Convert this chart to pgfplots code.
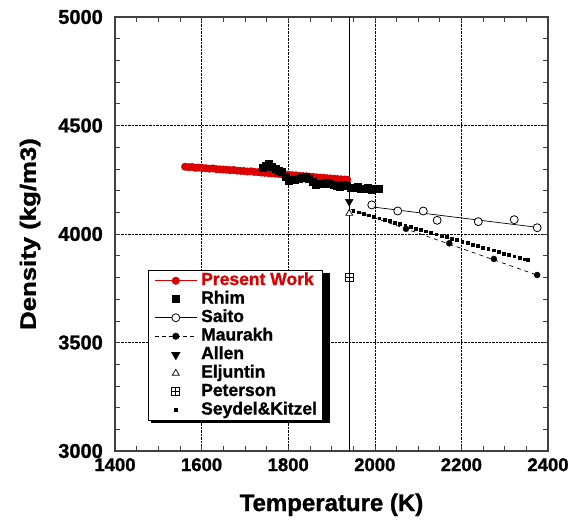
\documentclass[border=0pt]{standalone}
\usepackage{graphicx}
\usepackage{fontspec}
\setmainfont{Liberation Sans}[BoldFeatures={FakeBold=1.2}]
\usepackage{pgfplots}
\pgfplotsset{compat=1.18}
\usetikzlibrary{plotmarks}
\pgfdeclareplotmark{boxplus}{%
  \pgfpathrectangle{\pgfqpoint{-\pgfplotmarksize}{-\pgfplotmarksize}}{\pgfqpoint{2\pgfplotmarksize}{2\pgfplotmarksize}}%
  \pgfpathmoveto{\pgfqpoint{-\pgfplotmarksize}{0pt}}\pgfpathlineto{\pgfqpoint{\pgfplotmarksize}{0pt}}%
  \pgfpathmoveto{\pgfqpoint{0pt}{-\pgfplotmarksize}}\pgfpathlineto{\pgfqpoint{0pt}{\pgfplotmarksize}}%
  \pgfusepathqstroke}
\definecolor{pwred}{RGB}{220,0,0}
\pgfplotsset{
  longlegend/.style={legend image code/.code={\draw[mark repeat=2,mark phase=2,##1] plot coordinates {(0pt,0pt) (21pt,0pt) (42pt,0pt)};}},
  saitolegend/.style={legend image code/.code={\draw[black,line width=0.7pt] (0pt,0pt) -- (42pt,0pt);
    \draw[mark repeat=2,mark phase=2,##1] plot coordinates {(0pt,0pt) (21pt,0pt) (42pt,0pt)};}},
  maurakhlegend/.style={legend image code/.code={\draw[black,line width=0.7pt,dash pattern=on 4pt off 3pt] (0pt,0pt) -- (42pt,0pt);
    \draw[mark repeat=2,mark phase=2,##1] plot coordinates {(0pt,0pt) (21pt,0pt) (42pt,0pt)};}},
}
\begin{document}
\begin{tikzpicture}
\begin{axis}[
  at={(0pt,0pt)}, anchor=south west,
  scale only axis, width=433pt, height=434pt,
  xmin=1400, xmax=2400, ymin=3000, ymax=5000,
  xtick={1400,1600,...,2400}, ytick={3000,3500,...,5000},
  minor x tick num=3, minor y tick num=4,
  tick align=inside,
  major tick length=5pt, minor tick length=5pt,
  tick style={black!75, line width=0.6pt},
  xtick pos=both, ytick pos=both,
  grid=major,
  major grid style={black, densely dotted, line width=0.5pt},
  axis line style={black!75, line width=1.2pt},
  xticklabels={\textbf{1400},\textbf{1600},\textbf{1800},\textbf{2000},\textbf{2200},\textbf{2400}},
  yticklabels={\textbf{3000},\textbf{3500},\textbf{4000},\textbf{4500},\textbf{5000}},
  xticklabel style={font=\fontsize{18.5}{18.5}\selectfont, anchor=north, inner sep=0pt, yshift=-7pt},
  yticklabel style={font=\fontsize{20}{20}\selectfont, anchor=east, inner sep=0pt, xshift=-12pt},
  xlabel={Temperature (K)},
  ylabel={\scalebox{1.17}[1]{Density (kg/m3)}},
  every axis x label/.style={at={(axis description cs:0.5,-0.124)}, anchor=center, font=\fontsize{24}{24}\selectfont\bfseries},
  every axis y label/.style={at={(axis description cs:-0.196,0.5)}, anchor=center, rotate=90, font=\fontsize{22}{22}\selectfont\bfseries},
  legend cell align=left,
  legend style={at={(axis description cs:0.076,0.417)}, anchor=north west,
    draw=black, line width=1pt, fill=white,
    font=\fontsize{17.5}{18}\selectfont\bfseries, inner xsep=6pt, inner ysep=2pt,
    nodes={inner sep=0pt, text height=12.5pt, text depth=4pt}, row sep=2pt, column sep=4pt},
  longlegend,
]
% legend shadow (drawn under the legend)
\fill[black] (axis description cs:0.082,0.410) rectangle (axis description cs:0.4955,0.0655);
% Present Work
\addplot[pwred, line width=0.8pt, mark=*, mark size=3.6pt, mark options={pwred}] coordinates {
(1562,4310) (1570,4308) (1578,4309) (1586,4305) (1594,4306) (1602,4304) (1610,4303) (1618,4301)
(1626,4302) (1634,4299) (1642,4298) (1650,4297) (1658,4296) (1666,4294) (1674,4295) (1682,4292)
(1690,4291) (1698,4290) (1706,4288) (1714,4289) (1722,4286) (1730,4285) (1738,4283) (1746,4282)
(1754,4281) (1762,4279) (1770,4278) (1778,4277) (1786,4275) (1794,4274) (1802,4272) (1810,4271)
(1818,4270) (1826,4268) (1834,4267) (1842,4266) (1850,4264) (1858,4263) (1866,4261) (1874,4260)
(1882,4259) (1890,4257) (1898,4256) (1906,4255) (1914,4253) (1922,4252) (1930,4251) (1936,4250)
};
\addlegendentry{\textcolor{pwred}{Present Work}}
% Rhim
\addplot[only marks, mark=square*, mark size=3.5pt, black] coordinates {
(1740,4305) (1748,4315) (1755,4322) (1762,4312) (1770,4300) (1778,4292) (1786,4285) (1794,4265)
(1800,4245) (1808,4248) (1816,4252) (1824,4255) (1832,4258) (1840,4262) (1848,4255) (1856,4240)
(1864,4228) (1872,4230) (1880,4232) (1888,4235) (1896,4233) (1904,4225) (1912,4222) (1920,4220)
(1928,4225) (1936,4222) (1944,4215) (1952,4212) (1960,4218) (1968,4210) (1976,4208) (1984,4212)
(1992,4205) (2000,4210) (2008,4208)
};
\addlegendentry{Rhim}
% Saito fit line
\addplot[black, line width=0.7pt, forget plot] coordinates {(1993,4125) (2378,4030)};
\addplot[only marks, mark=*, mark size=4pt, mark options={fill=white, draw=black, line width=0.8pt}, saitolegend] coordinates {
(1993,4134) (2053,4106) (2112,4106) (2144,4063) (2239,4057) (2322,4066) (2375,4029)
};
\addlegendentry{Saito}
% Maurakh fit line
\addplot[black, line width=0.7pt, dash pattern=on 4pt off 4pt, forget plot] coordinates {(1945,4113) (2380,3807)};
\addplot[only marks, mark=*, mark size=3pt, black, maurakhlegend] coordinates {
(2072,4024) (2172,3957) (2275,3885) (2375,3811)
};
\addlegendentry{Maurakh}
% Allen
\addplot[only marks, mark=triangle*, mark size=4.5pt, mark options={rotate=180}, black] coordinates {(1941,4149)};
\addlegendentry{Allen}
% Eljuntin
\addplot[only marks, mark=triangle*, mark size=4pt, mark options={fill=white, draw=black, line width=0.7pt}] coordinates {(1941,4095)};
\addlegendentry{Eljuntin}
% Peterson
\addplot[only marks, mark=boxplus, mark size=4pt, mark options={draw=black, line width=0.7pt}] coordinates {(1941,3800)};
\addlegendentry{Peterson}
% Seydel & Kitzel
\addplot[only marks, mark=square*, mark size=1.4pt, black] coordinates {
(1950,4107) (1962,4100) (1974,4094) (1986,4087) (1998,4080) (2010,4073) (2022,4067) (2034,4060)
(2046,4053) (2058,4046) (2070,4040) (2082,4033) (2094,4026) (2106,4019) (2118,4013) (2130,4006)
(2142,3999) (2154,3992) (2166,3986) (2178,3979) (2190,3972) (2202,3965) (2214,3959) (2226,3952)
(2238,3945) (2250,3938) (2262,3932) (2274,3925) (2286,3918) (2298,3911) (2310,3904) (2322,3898)
(2334,3891) (2346,3884) (2354,3880)
};
\addlegendentry{Seydel\&Kitzel}
% melting point line
\addplot[black, line width=0.9pt, forget plot] coordinates {(1941,3000) (1941,5000)};
\end{axis}
\path (-115pt,-79pt) rectangle (457pt,451pt);
\end{tikzpicture}
\end{document}
